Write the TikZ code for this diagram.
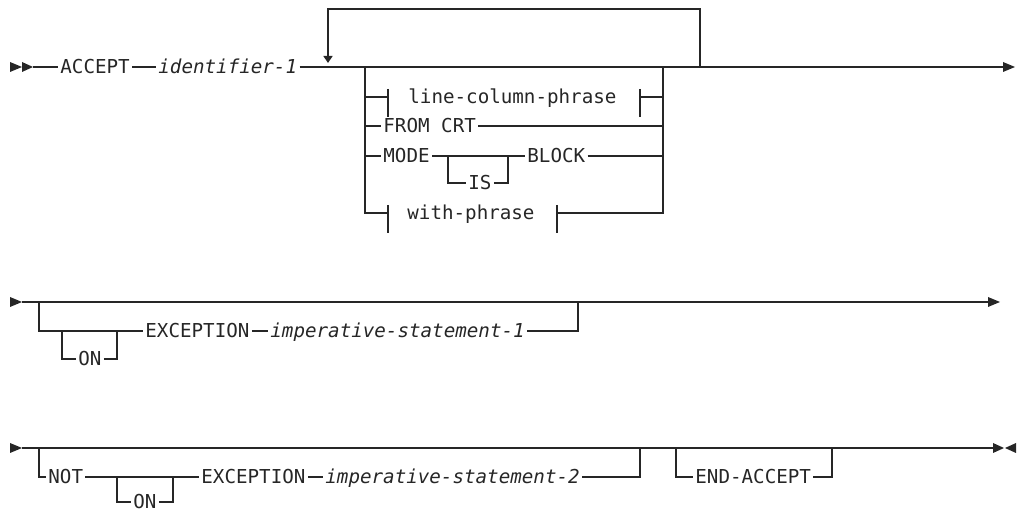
\documentclass[tikz,border=0pt]{standalone}
\usepackage{fontspec}
\usepackage{xcolor}
\usepackage{tikz}
\usetikzlibrary{arrows.meta,positioning,calc}

\newfontfamily\railfamily{DejaVu Sans Mono}
\newcommand\railfont{\railfamily\fontsize{9.6}{11}\selectfont}
\definecolor{ink}{HTML}{262626}

\tikzset{
  kw/.style={font=\railfont,text=ink,inner xsep=1pt,inner ysep=0pt,
    text height=7pt,text depth=0pt,anchor=west},
  var/.style={kw,font=\railfont\itshape},
  rail/.style={draw=ink,line width=0.75pt},
  tip/.style={fill=ink}
}

\begin{document}
\begin{tikzpicture}[x=0.5pt,y=-0.5pt,>=Latex]
  \useasboundingbox (0,0) rectangle (1018,512);

  % first line
  \coordinate (r1s) at (33,67);
  \coordinate (r1e) at (1003,67);
  \fill[tip] (10,62) -- (22,67) -- (10,72) -- cycle;
  \fill[tip] (22,62) -- (33,67) -- (22,72) -- cycle;
  \fill[tip] (1003,62) -- (1015,67) -- (1003,72) -- cycle;
  \node[kw] (accept) at (58,67) {ACCEPT};
  \node[var] (id1) at (156,67) {identifier-1};
  \draw[rail] (r1s) -- (accept);
  \draw[rail] (accept) -- (id1);
  \draw[rail] (id1) -- (r1e);

  % repeat loop
  \coordinate (lpin) at (328,67);
  \coordinate (lpout) at (700,67);
  \draw[rail,-{Triangle[width=4.5pt,length=3.5pt]}] (lpout) -- (700,9) -- (328,9) -- ([yshift=2pt]lpin);

  % choices
  \coordinate (chl) at (365,67);
  \coordinate (chr) at (663,67);
  \node[kw] (lcp) at (406,97) {line-column-phrase};
  \coordinate (lcpa) at (388,97);
  \coordinate (lcpb) at (640,97);
  \draw[rail] (lcpa -| chl) -- (lcpa);
  \draw[rail] ([yshift=4pt]lcpa) -- ([yshift=-10pt]lcpa);
  \draw[rail] ([yshift=4pt]lcpb) -- ([yshift=-10pt]lcpb);
  \draw[rail] (lcpb) -- (lcpb -| chr);

  \node[kw] (fromcrt) at (381,126) {FROM CRT};
  \draw[rail] (fromcrt.west -| chl) -- (fromcrt);
  \draw[rail] (fromcrt) -- (fromcrt.east -| chr);

  \node[kw] (mode) at (381,156) {MODE};
  \node[kw] (is) at (466,183) {IS};
  \node[kw] (block) at (525,156) {BLOCK};
  \coordinate (isl) at (448,156);
  \coordinate (isr) at (508,156);
  \draw[rail] (mode.west -| chl) -- (mode);
  \draw[rail] (mode) -- (block);
  \draw[rail] (isl) |- (is);
  \draw[rail] (is) -| (isr);
  \draw[rail] (block) -- (block.east -| chr);

  \node[kw] (with) at (405,213) {with-phrase};
  \coordinate (wpa) at (388,213);
  \coordinate (wpb) at (557,213);
  \draw[rail] (chl) |- (wpa);
  \draw[rail] ([yshift=4pt]wpa) -- ([yshift=-10pt]wpa);
  \draw[rail] ([yshift=4pt]wpb) -- ([yshift=-10pt]wpb);
  \draw[rail] (wpb) -| (chr);

  % second line
  \coordinate (r2s) at (22,302);
  \coordinate (r2e) at (988,302);
  \fill[tip] (10,297) -- (22,302) -- (10,307) -- cycle;
  \fill[tip] (988,297) -- (1000,302) -- (988,307) -- cycle;
  \draw[rail] (r2s) -- (r2e);
  \coordinate (b2l) at (39,302);
  \coordinate (b2r) at (578,302);
  \node[kw] (on1) at (76,359) {ON};
  \node[kw] (exc1) at (143,331) {EXCEPTION};
  \node[var] (imp1) at (268,331) {imperative-statement-1};
  \coordinate (on1l) at (62,331);
  \coordinate (on1r) at (117,331);
  \draw[rail] (b2l) |- (exc1);
  \draw[rail] (on1l) |- (on1);
  \draw[rail] (on1) -| (on1r);
  \draw[rail] (exc1) -- (imp1);
  \draw[rail] (imp1) -| (b2r);

  % third line
  \coordinate (r3s) at (22,448);
  \coordinate (r3e) at (993,448);
  \fill[tip] (10,443) -- (22,448) -- (10,453) -- cycle;
  \fill[tip] (993,443) -- (1004,448) -- (993,453) -- cycle;
  \fill[tip] (1016,443) -- (1005,448) -- (1016,453) -- cycle;
  \draw[rail] (r3s) -- (r3e);
  \coordinate (b3l) at (39,448);
  \coordinate (b3r) at (640,448);
  \node[kw] (not) at (46,477) {NOT};
  \node[kw] (on2) at (131,502) {ON};
  \node[kw] (exc2) at (199,477) {EXCEPTION};
  \node[var] (imp2) at (323,477) {imperative-statement-2};
  \coordinate (on2l) at (117,477);
  \coordinate (on2r) at (173,477);
  \draw[rail] (b3l) |- (not);
  \draw[rail] (not) -- (exc2);
  \draw[rail] (on2l) |- (on2);
  \draw[rail] (on2) -| (on2r);
  \draw[rail] (exc2) -- (imp2);
  \draw[rail] (imp2) -| (b3r);

  \coordinate (eal) at (676,448);
  \coordinate (ear) at (832,448);
  \node[kw] (endacc) at (693,477) {END-ACCEPT};
  \draw[rail] (eal) |- (endacc);
  \draw[rail] (endacc) -| (ear);
  \draw[rail,line width=1.4pt] (837,448) -- (862,448);
\end{tikzpicture}
\end{document}
